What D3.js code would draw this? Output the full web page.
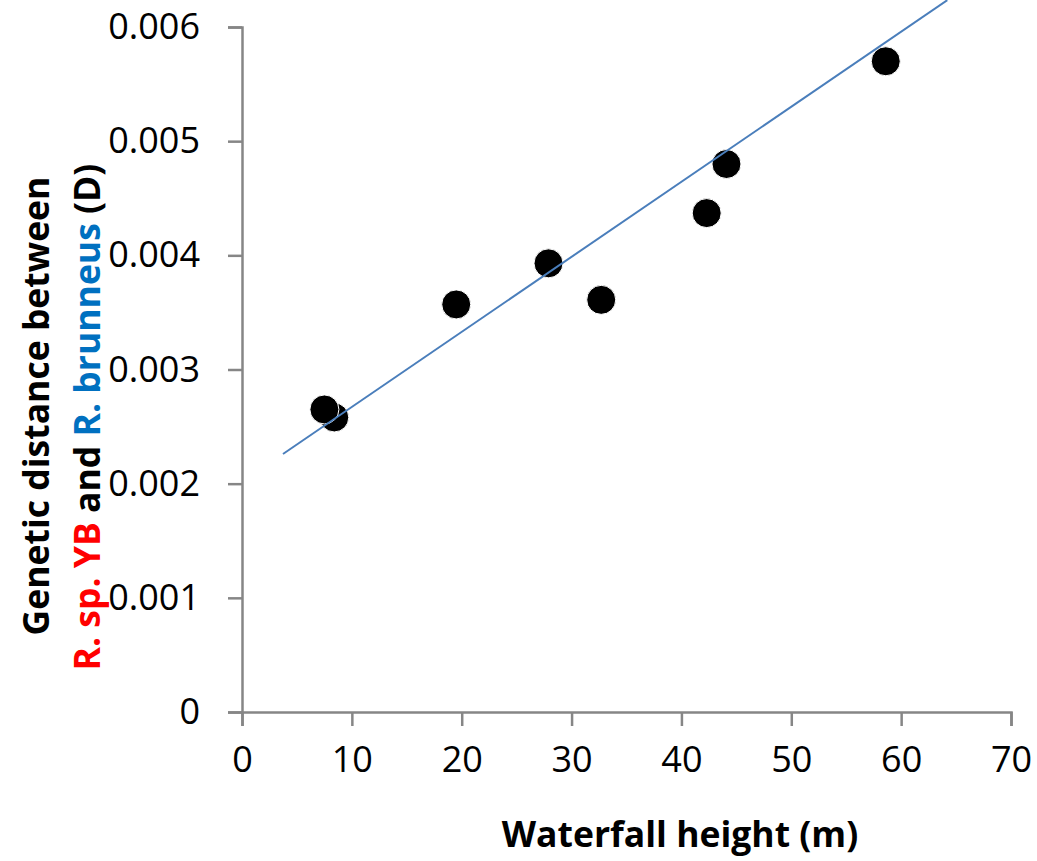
<!DOCTYPE html>
<html>
<head>
<meta charset="utf-8">
<script src="https://cdn.jsdelivr.net/npm/d3@7"></script>
<style>
  body { margin: 0; background: #fff; }
  text { font-family: "Open Sans", sans-serif; }
</style>
</head>
<body>
<script>
const width = 1037;
const height = 861;

// waterfall height (m) and genetic distance (D)
const heights = [8.4, 7.5, 19.5, 27.9, 32.7, 42.3, 44.1, 58.6];
const distances = [0.00258, 0.00265, 0.00357, 0.00393, 0.00361, 0.00437, 0.00480, 0.00570];

// trendline end points as drawn
const trendX = [3.73, 64.2];
const trendY = [0.00226, 0.006235];

const xTicks = [0, 10, 20, 30, 40, 50, 60, 70];
const yTicks = [0, 0.001, 0.002, 0.003, 0.004, 0.005, 0.006];

const margin = {left: 242, right: 26, top: 27, bottom: 149};

const svg = d3.select('body').append('svg').attr('width', width).attr('height', height);

const x = d3.scaleLinear().domain([0, 70]).range([margin.left, width - margin.right]);
const y = d3.scaleLinear().domain([0, 0.006]).range([height - margin.bottom, margin.top]);

const axisColor = '#868686';

// x axis
const xAxis = svg.append('g')
    .attr('transform', `translate(0,${y(0)})`)
    .call(d3.axisBottom(x).tickValues(xTicks).tickSize(14).tickPadding(20).tickFormat(d3.format('d')));
xAxis.select('.domain').attr('stroke', axisColor).attr('stroke-width', 2.5);
xAxis.selectAll('.tick line').attr('stroke', axisColor).attr('stroke-width', 2.5);
xAxis.selectAll('.tick text').attr('font-size', 36).attr('fill', '#000')
    .attr('font-family', '"Open Sans", sans-serif');

// y axis
const yAxis = svg.append('g')
    .attr('transform', `translate(${x(0)},0)`)
    .call(d3.axisLeft(y).tickValues(yTicks).tickSize(14).tickPadding(28)
        .tickFormat(d => d === 0 ? '0' : d3.format('.3f')(d)));
yAxis.select('.domain').attr('stroke', axisColor).attr('stroke-width', 2.5);
yAxis.selectAll('.tick line').attr('stroke', axisColor).attr('stroke-width', 2.5);
yAxis.selectAll('.tick text').attr('font-size', 36).attr('fill', '#000')
    .attr('font-family', '"Open Sans", sans-serif');

// points
svg.append('g').selectAll('circle')
    .data(heights.map((h, i) => [h, distances[i]]))
    .enter()
    .append('circle')
    .attr('cx', d => x(d[0]))
    .attr('cy', d => y(d[1]))
    .attr('r', 14.5)
    .attr('fill', '#000')
    .attr('stroke', '#fff')
    .attr('stroke-width', 1);

// trendline (drawn over the points, as in Excel)
svg.append('line')
    .attr('x1', x(trendX[0])).attr('y1', y(trendY[0]))
    .attr('x2', x(trendX[1])).attr('y2', y(trendY[1]))
    .attr('stroke', '#4a7ebb')
    .attr('stroke-width', 2);

// x title
svg.append('text')
    .attr('x', 680)
    .attr('y', 847)
    .attr('text-anchor', 'middle')
    .attr('font-size', 35.5)
    .attr('font-weight', 'bold')
    .text('Waterfall height (m)');

// y title (two lines)
const yTitle = svg.append('g').attr('transform', 'translate(0,412) rotate(-90)');
yTitle.append('text')
    .attr('x', 6).attr('y', 49)
    .attr('text-anchor', 'middle')
    .attr('font-size', 35.5)
    .attr('font-weight', 'bold')
    .text('Genetic distance between');
const line2 = yTitle.append('text')
    .attr('x', -5).attr('y', 100)
    .attr('text-anchor', 'middle')
    .attr('font-size', 35.5)
    .attr('font-weight', 'bold');
line2.append('tspan').attr('fill', '#ff0000').text('R. sp. YB');
line2.append('tspan').attr('fill', '#000').text(' and ');
line2.append('tspan').attr('fill', '#0070c0').text('R. brunneus');
line2.append('tspan').attr('fill', '#000').text(' (D)');
</script>
</body>
</html>
